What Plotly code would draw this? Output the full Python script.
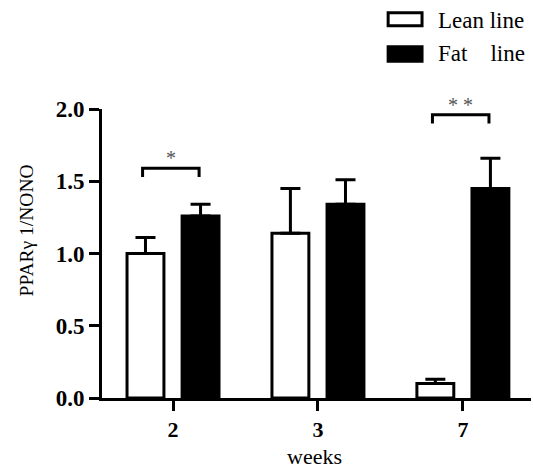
import plotly.graph_objects as go

weeks = ["2", "3", "7"]
lean = [1.00, 1.14, 0.10]
lean_err = [0.11, 0.31, 0.03]
fat = [1.26, 1.34, 1.45]
fat_err = [0.08, 0.17, 0.21]
zeros = [0, 0, 0]

SERIF = "Liberation Serif"

fig = go.Figure()
fig.add_trace(go.Bar(
    x=weeks, y=lean, name="Lean line",
    marker=dict(color="white", line=dict(color="black", width=3)),
    error_y=dict(type="data", symmetric=False, array=lean_err, arrayminus=zeros,
                 color="black", thickness=3, width=10),
    showlegend=False,
))
fig.add_trace(go.Bar(
    x=weeks, y=fat, name="Fat line",
    marker=dict(color="black", line=dict(color="black", width=3)),
    error_y=dict(type="data", symmetric=False, array=fat_err, arrayminus=zeros,
                 color="black", thickness=3, width=10),
    showlegend=False,
))

shapes = []
# significance brackets
for cx, yb, yend in [(0, 1.59, 1.53), (2, 1.96, 1.90)]:
    shapes.append(dict(type="path", xref="x", yref="y",
                       path=f"M {cx-0.21},{yend} L {cx-0.21},{yb} L {cx+0.18},{yb} L {cx+0.18},{yend}",
                       line=dict(color="black", width=3)))
# legend boxes
shapes.append(dict(type="rect", xref="paper", yref="paper", x0=0.667, x1=0.746, y0=1.333, y1=1.288,
                   line=dict(color="black", width=3), fillcolor="white"))
shapes.append(dict(type="rect", xref="paper", yref="paper", x0=0.667, x1=0.746, y0=1.215, y1=1.165,
                   line=dict(color="black", width=3), fillcolor="black"))

annotations = [
    dict(x=-0.015, y=1.59, xref="x", yref="y", text="*", showarrow=False, yanchor="bottom",
         yshift=-3, font=dict(family=SERIF, size=20, color="#555")),
    dict(x=1.985, y=1.96, xref="x", yref="y", text="* *", showarrow=False, yanchor="bottom",
         yshift=-3, font=dict(family=SERIF, size=20, color="#555")),
    dict(x=0.779, y=1.305, xref="paper", yref="paper", text="Lean line", showarrow=False,
         xanchor="left", yanchor="middle", font=dict(family=SERIF, size=23, color="black")),
    dict(x=0.779, y=1.191, xref="paper", yref="paper", text="Fat&nbsp;&nbsp;&nbsp;&nbsp;line", showarrow=False,
         xanchor="left", yanchor="middle", font=dict(family=SERIF, size=23, color="black")),
    # axis titles
    dict(x=0.495, y=0, xref="paper", yref="paper", text="weeks", showarrow=False,
         xanchor="center", yanchor="middle", yshift=-58, font=dict(family=SERIF, size=22, color="black")),
    dict(x=0, y=0.58, xref="paper", yref="paper", text="PPARγ 1/NONO", showarrow=False,
         textangle=-90, xanchor="center", yanchor="middle", xshift=-76,
         font=dict(family=SERIF, size=19.5, color="black")),
]

fig.update_layout(
    width=533, height=468,
    margin=dict(l=101.5, r=2, t=109, b=69.5),
    paper_bgcolor="white", plot_bgcolor="white",
    barmode="group", bargap=0.24, bargroupgap=0.33,
    shapes=shapes, annotations=annotations,
    font=dict(family=SERIF, color="black"),
)
fig.update_xaxes(
    type="category", range=[-0.49, 2.47], automargin=False,
    showline=True, linecolor="black", linewidth=3,
    ticks="outside", ticklen=10, tickwidth=3, tickcolor="black",
    tickfont=dict(family=SERIF, size=22, color="black", weight="bold"),
    showgrid=False, zeroline=False,
)
fig.update_yaxes(
    range=[0, 2.0], tickvals=[0, 0.5, 1.0, 1.5, 2.0], ticktext=["0.0", "0.5", "1.0", "1.5", "2.0"],
    automargin=False,
    showline=True, linecolor="black", linewidth=3,
    ticks="outside", ticklen=10, tickwidth=3, tickcolor="black",
    tickfont=dict(family=SERIF, size=23, color="black", weight="bold"),
    showgrid=False, zeroline=False,
)

fig.write_html("out.html", config={"displayModeBar": False},
               post_script="document.body.style.margin='0';document.body.style.padding='0';")
